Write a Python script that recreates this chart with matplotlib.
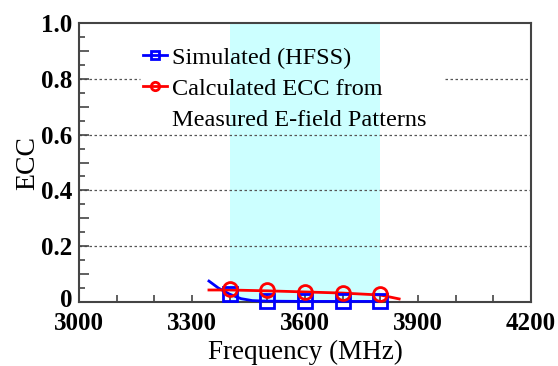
import matplotlib
matplotlib.use('Agg')
import matplotlib.pyplot as plt
import matplotlib.transforms as mtransforms
from matplotlib.lines import Line2D
from matplotlib.ticker import MultipleLocator

# Simulated ECC (HFSS) - smooth curve and marker points
sim_freq = [3345, 3370, 3400, 3430, 3460, 3500, 3600, 3700, 3800]
sim_ecc = [0.075, 0.050, 0.028, 0.012, 0.005, 0.003, 0.002, 0.002, 0.002]
sim_mark_freq = [3400, 3500, 3600, 3700, 3800]
sim_mark_ecc = [0.028, 0.003, 0.002, 0.002, 0.002]

# ECC calculated from measured E-field patterns
meas_freq = [3345, 3400, 3500, 3600, 3700, 3800, 3850]
meas_ecc = [0.043, 0.043, 0.040, 0.036, 0.032, 0.025, 0.011]
meas_mark_freq = [3400, 3500, 3600, 3700, 3800]
meas_mark_ecc = [0.046, 0.042, 0.037, 0.033, 0.027]

band = (3400, 3800)
grid_levels = [0.2, 0.4, 0.6]
x_ticks = [3000, 3300, 3600, 3900, 4200]
y_ticks = [0, 0.1, 0.2, 0.3, 0.4, 0.5, 0.6, 0.7, 0.8, 0.9, 1.0]
y_labels = ['0', '', '0.2', '', '0.4', '', '0.6', '', '0.8', '', '1.0']
legend_labels = ['Simulated (HFSS)', 'Calculated ECC from', 'Measured E-field Patterns']

plt.rcParams['font.family'] = ['Liberation Serif', 'DejaVu Serif']

fig = plt.figure(figsize=(5.58, 3.66), dpi=100)
ax = fig.add_axes([0.1416, 0.1749, 0.81, 0.762])

ax.axvspan(band[0], band[1], color='#ccffff', zorder=0, lw=0)
grid_kw = dict(color='#555555', ls=(0, (2, 2)), lw=0.9, zorder=1)
for g in grid_levels:
    ax.axhline(g, **grid_kw)
# 0.8 line is interrupted by the legend
ax.axhline(0.8, xmin=0, xmax=0.135, **grid_kw)
ax.axhline(0.8, xmin=0.81, xmax=1, **grid_kw)

ax.plot(sim_freq, sim_ecc, color='#0000ff', lw=2, zorder=3, clip_on=False)
ax.plot(sim_mark_freq, sim_mark_ecc, ls='none', marker='s', ms=10, mfc='none',
        mec='#0000ff', mew=2, zorder=4, clip_on=False)
ax.plot(meas_freq, meas_ecc, color='#ff0000', lw=2, zorder=3, clip_on=False)
ax.plot(meas_mark_freq, meas_mark_ecc, ls='none', marker='o', ms=10, mfc='none',
        mec='#ff0000', mew=2, zorder=4, clip_on=False)

ax.set_xlim(3000, 4200)
ax.set_ylim(0, 1.0)
ax.set_xticks(x_ticks)
ax.xaxis.set_minor_locator(MultipleLocator(100))
ax.set_yticks(y_ticks)
ax.set_yticklabels(y_labels)
ax.yaxis.set_minor_locator(MultipleLocator(0.05))
ax.tick_params(axis='both', which='both', direction='in', top=False, right=False,
               labelsize=18, width=1.2, colors='#444444', labelcolor='black')
ax.tick_params(axis='x', which='both', length=5, pad=7)
ax.tick_params(axis='y', which='major', length=7, pad=5)
ax.tick_params(axis='y', which='minor', length=4)
for lab in ax.get_xticklabels() + ax.get_yticklabels():
    lab.set_fontweight('semibold')
for s in ax.spines.values():
    s.set_linewidth(1.5)
    s.set_color('#444444')

# nudge the "0" label up a little so it clears "3000"
zero_lab = ax.get_yticklabels()[0]
zero_lab.set_transform(zero_lab.get_transform() +
                       mtransforms.ScaledTranslation(0, 3 / 72, fig.dpi_scale_trans))

ax.set_xlabel('Frequency (MHz)', fontsize=19.5, labelpad=4)
ax.set_ylabel('ECC', fontsize=20, labelpad=0)

h1 = Line2D([], [], color='#0000ff', lw=2, marker='s', ms=6, mfc='none', mec='#0000ff', mew=2)
h2 = Line2D([], [], color='#ff0000', lw=2, marker='o', ms=6, mfc='none', mec='#ff0000', mew=2)
h3 = Line2D([], [], color='none')
ax.legend([h1, h2, h3], legend_labels, loc='upper left',
          bbox_to_anchor=(0.1416, 0.915), frameon=False, fontsize=17.5,
          handlelength=1.0, handletextpad=0.2, labelspacing=0.37,
          borderaxespad=0, borderpad=0)

fig.savefig('out.png', dpi=100)
